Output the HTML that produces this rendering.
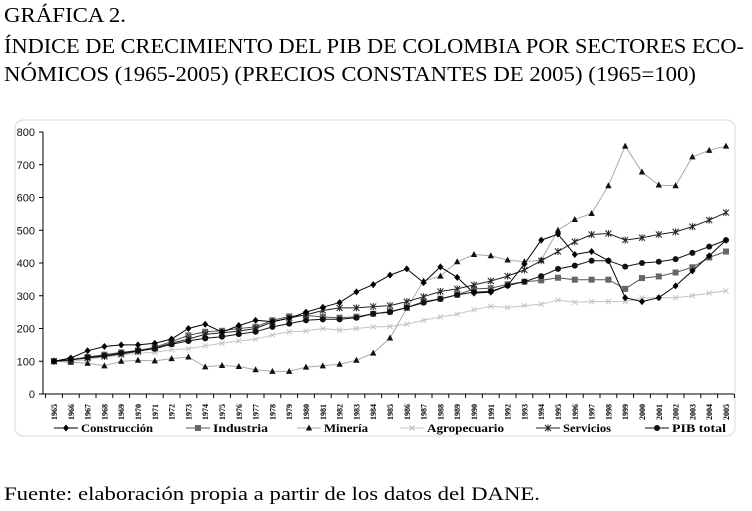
<!DOCTYPE html>
<html><head><meta charset="utf-8"><style>
html,body{margin:0;padding:0;background:#fff;}
svg{display:block;}
</style></head><body>
<svg id="chart" width="752" height="511" viewBox="0 0 752 511" xmlns="http://www.w3.org/2000/svg">
<g font-family="Liberation Serif, serif" font-size="21" fill="#000">
<text x="4" y="22" textLength="122" lengthAdjust="spacingAndGlyphs">GRÁFICA 2.</text>
<text x="4" y="53" textLength="740" lengthAdjust="spacingAndGlyphs">ÍNDICE DE CRECIMIENTO DEL PIB DE COLOMBIA POR SECTORES ECO-</text>
<text x="4" y="81" textLength="692" lengthAdjust="spacingAndGlyphs">NÓMICOS (1965-2005) (PRECIOS CONSTANTES DE 2005) (1965=100)</text>
<text x="4" y="500" font-size="19" textLength="536" lengthAdjust="spacingAndGlyphs">Fuente: elaboración propia a partir de los datos del DANE.</text>
</g>
<rect x="15" y="120" width="720" height="316" rx="8" fill="none" stroke="#d8d8d8" stroke-width="1"/>
<g id="plot"></g>
</svg>
<script>
const years = [];
for (let y = 1965; y <= 2005; y++) years.push(y);
const yTicks = [0,100,200,300,400,500,600,700,800];
const construccion = [100,110,132,145,150,150,155,168,200,213,189,209,225,221,231,250,265,279,312,334,363,382,340,388,356,308,311,331,397,470,488,426,435,407,294,282,294,330,376,422,470];
const industria = [100,103,113,120,127,133,143,160,179,190,193,200,205,225,237,240,235,233,236,245,252,264,282,291,303,321,323,335,343,347,355,349,349,349,321,354,359,371,387,417,435];
const mineria = [100,97,94,86,100,103,101,108,113,83,87,84,74,69,69,82,86,91,103,125,171,262,345,360,404,426,422,409,404,409,500,533,551,636,757,678,638,636,724,744,757];
const agropecuario = [100,100,105,113,118,125,127,135,138,147,155,162,167,180,190,192,200,195,200,205,206,213,225,235,244,257,268,264,270,274,287,280,282,282,282,294,294,294,300,308,315];
const servicios = [100,104,110,115,122,130,140,155,168,182,187,192,200,220,232,242,255,263,263,267,270,282,297,313,321,333,345,360,379,407,435,465,487,490,470,477,487,495,511,531,554];
const pibTotal = [100,105,112,117,125,132,138,152,162,170,175,183,190,205,215,225,228,228,233,245,250,264,279,290,303,311,313,331,343,360,382,392,407,407,389,400,404,412,431,450,470];
const seriesNames = ["Construcción","Industria","Minería","Agropecuario","Servicios","PIB total"];

const NS = "http://www.w3.org/2000/svg";
const g = document.getElementById('plot');
const X0 = 54, X1 = 726, Y0 = 394, Y1 = 132;
const xs = i => X0 + (X1 - X0) * i / (years.length - 1);
const ys = v => Y0 - (Y0 - Y1) * v / 800;
function mk(tag, attrs, parent) {
  const e = document.createElementNS(NS, tag);
  for (const k in attrs) e.setAttribute(k, attrs[k]);
  (parent || g).appendChild(e);
  return e;
}
let e = mk('line', {x1:43, y1:ys(800), x2:43, y2:Y0, stroke:'#000'});


e = mk('line', {x1:43, y1:Y0, x2:734, y2:Y0, stroke:'#000'});


yTicks.forEach(t => {
  mk('line', {x1:39, y1:ys(t), x2:43, y2:ys(t), stroke:'#000'});
  const tx = mk('text', {x:35, y:ys(t)+4, 'text-anchor':'end', 'font-family':'Liberation Sans, sans-serif', 'font-size':'11', fill:'#111'});
  tx.textContent = t;
  
  
});
years.forEach((yr, i) => {
  const x = xs(i);
  mk('line', {x1:x-8.4, y1:Y0, x2:x-8.4, y2:Y0+4, stroke:'#000'});
  const tx = mk('text', {x:0, y:0, transform:`translate(${x+3},${Y0+18}) rotate(-90)`, 'text-anchor':'middle', 'font-family':'Liberation Serif, serif', 'font-size':'8', 'font-weight':'bold'});
  tx.textContent = yr;
  
  
});
mk('line', {x1:X1+8.4, y1:Y0, x2:X1+8.4, y2:Y0+4, stroke:'#000'});

function marker(type, x, y, color, parent) {
  if (type === 'diamond') return mk('path', {d:`M${x} ${y-3.5}L${x+3} ${y}L${x} ${y+3.5}L${x-3} ${y}Z`, fill:color}, parent);
  if (type === 'square') return mk('rect', {x:x-3, y:y-3, width:6, height:6, fill:color}, parent);
  if (type === 'triangle') return mk('path', {d:`M${x} ${y-3.5}L${x+3.2} ${y+2.5}L${x-3.2} ${y+2.5}Z`, fill:color}, parent);
  if (type === 'x') return mk('path', {d:`M${x-2.5} ${y-2.5}L${x+2.5} ${y+2.5}M${x-2.5} ${y+2.5}L${x+2.5} ${y-2.5}`, stroke:color, 'stroke-width':1, fill:'none'}, parent);
  if (type === 'star') return mk('path', {d:`M${x-3} ${y-3}L${x+3} ${y+3}M${x-3} ${y+3}L${x+3} ${y-3}M${x} ${y-3.5}L${x} ${y+3.5}`, stroke:color, 'stroke-width':1, fill:'none'}, parent);
  return mk('circle', {cx:x, cy:y, r:3, fill:color}, parent);
}
const defs = [
  {data: agropecuario, color:'#c4c4c4', m:'x', name:'series-agropecuario'},
  {data: mineria, color:'#a8a8a8', m:'triangle', mcolor:'#111', name:'series-mineria'},
  {data: industria, color:'#555', m:'square', mcolor:'#666', name:'series-industria'},
  {data: servicios, color:'#222', m:'star', name:'series-servicios'},
  {data: pibTotal, color:'#111', m:'circle', name:'series-pib-total'},
  {data: construccion, color:'#000', m:'diamond', name:'series-construccion'}
];
defs.forEach(d => {
  const grp = mk('g', {});
  
  
  const pts = d.data.map((v, i) => `${xs(i).toFixed(1)},${ys(v).toFixed(1)}`).join(' ');
  mk('polyline', {points:pts, fill:'none', stroke:d.color, 'stroke-width':1}, grp);
  d.data.forEach((v, i) => marker(d.m, xs(i), ys(v), d.mcolor || d.color, grp));
});
const legend = [
  {m:'diamond', color:'#000', lc:'#000', x:54},
  {m:'square', color:'#666', lc:'#555', x:186},
  {m:'triangle', color:'#111', lc:'#a8a8a8', x:297},
  {m:'x', color:'#bbb', lc:'#c4c4c4', x:400},
  {m:'star', color:'#222', lc:'#222', x:536},
  {m:'circle', color:'#111', lc:'#111', x:645}
];
const lw = [72, 55, 44, 77, 48, 54];
legend.forEach((l, i) => {
  const grp = mk('g', {});
  
  
  mk('line', {x1:l.x, y1:428, x2:l.x+24, y2:428, stroke:l.lc}, grp);
  marker(l.m, l.x+12, 428, l.color, grp);
  const t = mk('text', {x:l.x+27, y:432, 'font-family':'Liberation Serif, serif', 'font-size':'12', 'font-weight':'bold', textLength:lw[i], lengthAdjust:'spacingAndGlyphs'}, grp);
  t.textContent = seriesNames[i];
});
</script>
</body></html>
